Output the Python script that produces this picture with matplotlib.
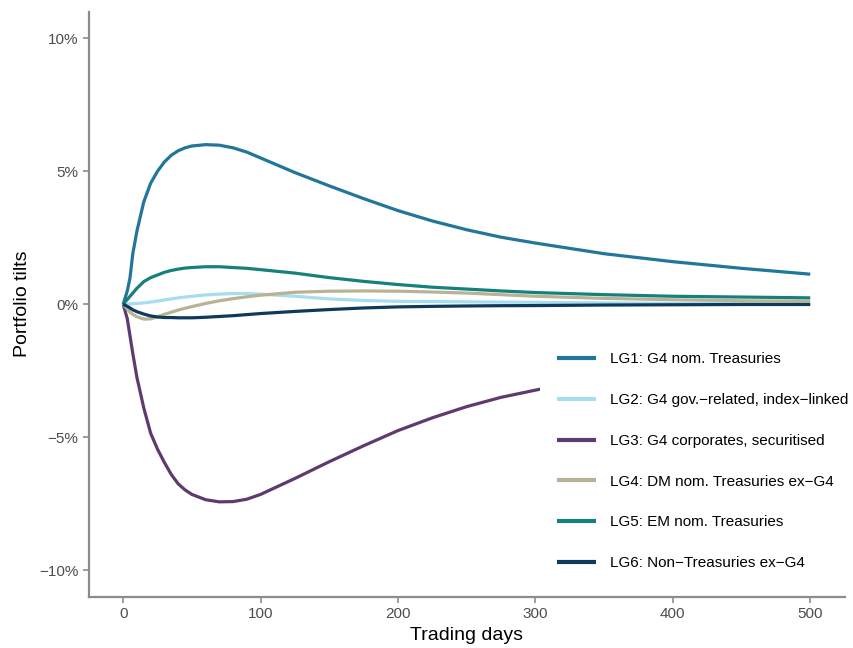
import matplotlib
matplotlib.use('Agg')
import matplotlib.pyplot as plt

plt.rcParams['font.family'] = ['Liberation Sans', 'DejaVu Sans']

## DATA ######################################################################
days = [0, 3, 5, 7, 10, 15, 20, 25, 30, 35, 40, 45, 50, 60, 70, 80, 90, 100,
        125, 150, 175, 200, 225, 250, 275, 300, 350, 400, 450, 500]

lg1 = [0, 0.5, 1.0, 1.9, 2.75, 3.85, 4.55, 5.0, 5.35, 5.6, 5.77, 5.88, 5.95, 6.0, 5.98, 5.88, 5.72, 5.5,
       4.95, 4.45, 3.97, 3.52, 3.13, 2.8, 2.52, 2.3, 1.9, 1.6, 1.35, 1.13]
lg2 = [0, 0.0, 0.01, 0.02, 0.03, 0.05, 0.08, 0.12, 0.16, 0.2, 0.24, 0.27, 0.3, 0.35, 0.38, 0.4, 0.4, 0.38,
       0.3, 0.2, 0.14, 0.11, 0.1, 0.09, 0.08, 0.07, 0.05, 0.03, 0.02, 0.01]
lg3 = [0, -0.55, -1.2, -1.85, -2.75, -3.9, -4.85, -5.45, -5.95, -6.4, -6.75, -6.98, -7.15, -7.35, -7.43, -7.42, -7.33, -7.15,
       -6.55, -5.92, -5.32, -4.75, -4.27, -3.85, -3.5, -3.23, -2.7, -2.25, -1.9, -1.6]
lg4 = [0, -0.18, -0.3, -0.38, -0.47, -0.56, -0.55, -0.47, -0.38, -0.3, -0.22, -0.15, -0.09, 0.03, 0.13, 0.21, 0.28, 0.34,
       0.45, 0.49, 0.5, 0.49, 0.46, 0.42, 0.36, 0.3, 0.22, 0.17, 0.13, 0.11]
lg5 = [0, 0.18, 0.3, 0.42, 0.6, 0.85, 1.0, 1.1, 1.2, 1.27, 1.32, 1.36, 1.38, 1.41, 1.41, 1.38, 1.35, 1.3,
       1.17, 1.0, 0.86, 0.74, 0.64, 0.57, 0.5, 0.44, 0.36, 0.3, 0.27, 0.24]
lg6 = [0, -0.08, -0.14, -0.21, -0.28, -0.37, -0.44, -0.48, -0.5, -0.5, -0.51, -0.51, -0.51, -0.49, -0.46, -0.43, -0.39, -0.35,
       -0.27, -0.2, -0.14, -0.1, -0.08, -0.065, -0.055, -0.05, -0.03, -0.02, -0.01, -0.01]

labels = ['LG1: G4 nom. Treasuries',
          'LG2: G4 gov.\u2212related, index\u2212linked',
          'LG3: G4 corporates, securitised',
          'LG4: DM nom. Treasuries ex\u2212G4',
          'LG5: EM nom. Treasuries',
          'LG6: Non\u2212Treasuries ex\u2212G4']
colors = ['#21769A', '#A6DDF0', '#5E3A6E', '#B8B394', '#16807D', '#0E3A5C']

xticks = [0, 100, 200, 300, 400, 500]
yticks = [-10, -5, 0, 5, 10]
ytick_labels = ['\u221210%', '\u22125%', '0%', '5%', '10%']

## PLOT ######################################################################
fig = plt.figure(figsize=(8.54, 6.48), dpi=100)
ax = fig.add_axes([0.104, 0.079, 0.885, 0.903])

series = [lg1, lg2, lg3, lg4, lg5, lg6]
for vals, lab, col in zip(series, labels, colors):
    ax.plot(days, vals, color=col, lw=2.3, label=lab, solid_capstyle='butt',
            solid_joinstyle='round')

ax.set_xlim(-25, 525)
ax.set_ylim(-11, 11)
ax.set_xticks(xticks)
ax.set_yticks(yticks)
ax.set_yticklabels(ytick_labels)

for side in ['top', 'right']:
    ax.spines[side].set_visible(False)
for side in ['left', 'bottom']:
    ax.spines[side].set_color('#8C8C8C')
    ax.spines[side].set_linewidth(1.6)
ax.tick_params(colors='#8C8C8C', labelcolor='#4D4D4D', labelsize=11, length=4, width=1.2)

ax.set_xlabel('Trading days', fontsize=14, labelpad=4)
ax.set_ylabel('Portfolio tilts', fontsize=14, labelpad=6)

leg = ax.legend(loc='upper left', bbox_to_anchor=(0.632, 0.482), bbox_transform=fig.transFigure,
                frameon=True, facecolor='white', edgecolor='none', framealpha=1,
                fontsize=11, handlelength=2.6, handletextpad=0.9, labelspacing=1.75,
                borderpad=1.1, borderaxespad=0)
for line in leg.get_lines():
    line.set_linewidth(3)

fig.savefig('out.png', dpi=100)
